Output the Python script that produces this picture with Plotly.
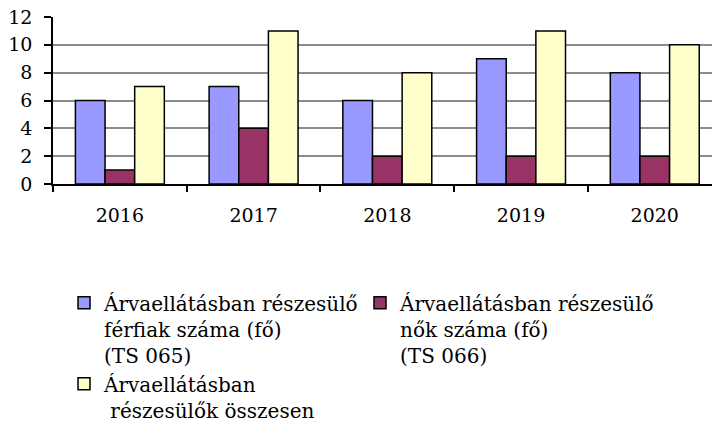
import plotly.graph_objects as go

years = ["2016", "2017", "2018", "2019", "2020"]
ferfiak = [6, 7, 6, 9, 8]
nok = [1, 4, 2, 2, 2]
osszesen = [7, 11, 8, 11, 10]

names = [
    "Árvaellátásban részesülő<br>férfiak száma (fő)<br>(TS 065)",
    "Árvaellátásban részesülő<br>nők száma (fő)<br>(TS 066)",
    "Árvaellátásban<br> részesülők összesen",
]
colors = ["#9999FF", "#993366", "#FFFFCC"]
FONT = "DejaVu Serif"

fig = go.Figure()
for vals, name, col in zip([ferfiak, nok, osszesen], names, colors):
    fig.add_trace(go.Bar(
        x=years, y=vals, name=name,
        marker=dict(color=col, line=dict(color="black", width=1.5)),
    ))

fig.update_layout(
    width=712, height=425,
    margin=dict(l=53, r=0, t=17, b=241, autoexpand=False),
    paper_bgcolor="white", plot_bgcolor="white",
    barmode="group", bargap=0.335, bargroupgap=0,
    font=dict(family=FONT, size=19, color="black"),
    showlegend=True,
    legend=dict(
        orientation="h", x=0.0167, xanchor="left", y=-0.595, yanchor="top",
        entrywidth=251, entrywidthmode="pixels",
        font=dict(family=FONT, size=20, color="black"),
        itemwidth=30, valign="top",
        traceorder="normal",
    ),
)
fig.update_xaxes(
    type="category", range=[-0.5, 4.428],
    showline=True, linecolor="black", linewidth=1.5,
    ticks="outside", tickson="boundaries", ticklen=6, tickcolor="black", tickwidth=1.5,
    ticklabelstandoff=13,
    tickfont=dict(family=FONT, size=19),
    showgrid=False,
)
fig.update_yaxes(
    range=[0, 12], dtick=2,
    showline=True, linecolor="black", linewidth=1.5,
    ticks="outside", ticklen=7, tickcolor="black", tickwidth=1.5,
    ticklabelstandoff=8, ticklabeloverflow="allow",
    showgrid=True, gridcolor="#8c8c8c", gridwidth=1.5,
    tickfont=dict(family=FONT, size=19),
    zeroline=False,
)

fig.write_html(
    "out.html",
    config={"displayModeBar": False},
    post_script="document.body.style.margin='0';",
)
